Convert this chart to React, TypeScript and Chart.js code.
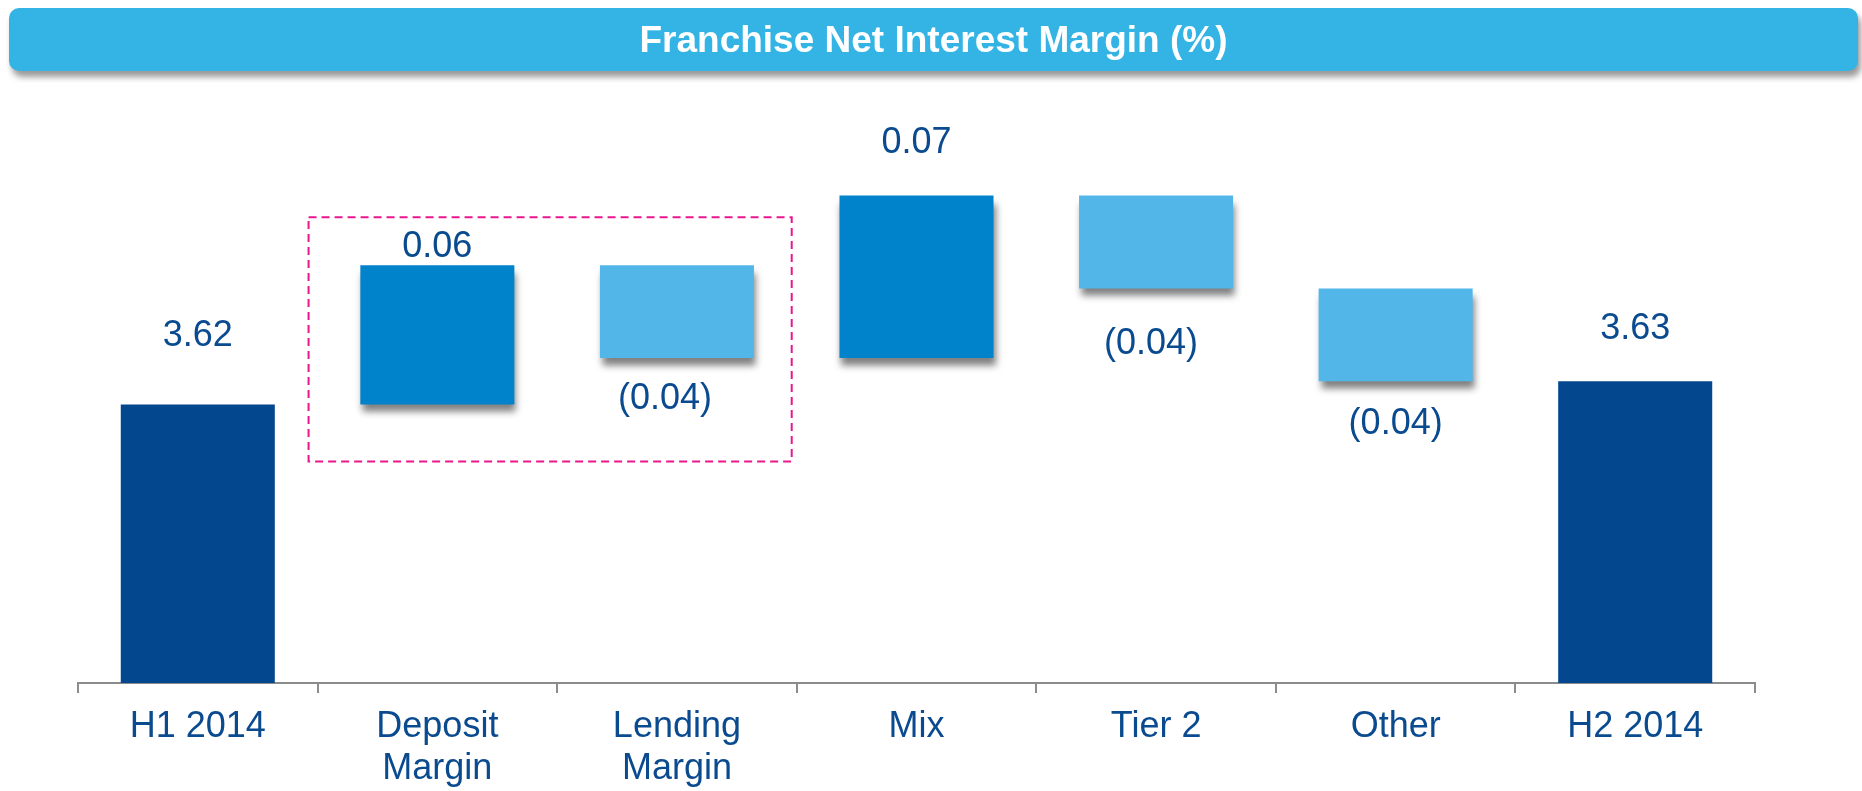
import React, { useEffect, useRef } from "react";
import { Chart, registerables } from "chart.js";

Chart.register(...registerables);

// ---- data ----
const categories: string[][] = [
  ["H1 2014"],
  ["Deposit", "Margin"],
  ["Lending", "Margin"],
  ["Mix"],
  ["Tier 2"],
  ["Other"],
  ["H2 2014"],
];
const totals: (number | null)[] = [3.62, null, null, null, null, null, 3.63];
const changes: (number | null)[] = [null, 0.06, -0.04, 0.07, -0.04, -0.04, null];
const highlighted: number[] = [1, 2];
const axisMin = 3.5;
const axisMax = 3.75;
const titleText = "Franchise Net Interest Margin (%)";

// ---- styles ----
const FONT = "'Liberation Sans', Arial, Helvetica, sans-serif";
const TEXT_COLOR = "#0A4A8F";
const TOTAL_COLOR = "#03478E";
const UP_COLOR = "#0083CB";
const DOWN_COLOR = "#52B7E8";
const labelGap = [58, 8, 51, 43, 66, 53, 42];
const labelDx = [0, 0, -12, 0, -5, 0, 0];

const round2 = (v: number) => Math.round(v * 100) / 100;

function buildRanges() {
  let running = totals[0] as number;
  const totalRanges = totals.map((v) => (v == null ? null : [axisMin, v]));
  const changeRanges = changes.map((d) => {
    if (d == null) return null;
    const start = running;
    const end = round2(running + d);
    running = end;
    return [start, end];
  });
  return { totalRanges, changeRanges };
}

const shadowPlugin = {
  id: "barShadow",
  beforeDatasetDraw(chart: any, args: any) {
    if (args.index === 1) {
      const ctx = chart.ctx;
      ctx.save();
      ctx.shadowColor = "rgba(0,0,0,0.5)";
      ctx.shadowOffsetX = 2;
      ctx.shadowOffsetY = 8;
      ctx.shadowBlur = 7;
    }
  },
  afterDatasetDraw(chart: any, args: any) {
    if (args.index === 1) chart.ctx.restore();
  },
};

const labelPlugin = {
  id: "waterfallLabels",
  afterDatasetsDraw(chart: any) {
    const ctx = chart.ctx;
    ctx.save();
    ctx.font = `36px ${FONT}`;
    ctx.fillStyle = TEXT_COLOR;
    ctx.textAlign = "center";
    ctx.textBaseline = "alphabetic";
    [0, 1].forEach((di) => {
      const meta = chart.getDatasetMeta(di);
      meta.data.forEach((el: any, i: number) => {
        const raw = di === 0 ? totals[i] : changes[i];
        if (raw == null) return;
        const top = Math.min(el.y, el.base);
        const bottom = Math.max(el.y, el.base);
        let text: string;
        let y: number;
        if (di === 0 || raw >= 0) {
          text = raw.toFixed(2);
          y = top - labelGap[i];
        } else {
          text = `(${Math.abs(raw).toFixed(2)})`;
          y = bottom + labelGap[i];
        }
        ctx.fillText(text, el.x + labelDx[i], y);
      });
    });
    ctx.restore();

    // dashed highlight box around highlighted categories
    const xs = chart.scales.x;
    const ys = chart.scales.y;
    const catW = xs.getPixelForValue(1) - xs.getPixelForValue(0);
    const first = highlighted[0];
    const last = highlighted[highlighted.length - 1];
    const { changeRanges } = buildRanges();
    let hi = -Infinity;
    let lo = Infinity;
    highlighted.forEach((i) => {
      const r = changeRanges[i] as number[];
      hi = Math.max(hi, r[0], r[1]);
      lo = Math.min(lo, r[0], r[1]);
    });
    const left = xs.getPixelForValue(first) - catW / 2 - 9;
    const right = xs.getPixelForValue(last) + catW / 2 - 5;
    const top = ys.getPixelForValue(hi) - 48;
    const bottom = ys.getPixelForValue(lo) + 57;
    ctx.save();
    ctx.strokeStyle = "#E9168C";
    ctx.lineWidth = 2;
    ctx.setLineDash([8, 5]);
    ctx.strokeRect(left, top, right - left, bottom - top);
    ctx.restore();
  },
};

export default function App() {
  const canvasRef = useRef<HTMLCanvasElement | null>(null);

  useEffect(() => {
    if (!canvasRef.current) return;
    const { totalRanges, changeRanges } = buildRanges();
    const chart = new Chart(canvasRef.current, {
      type: "bar",
      data: {
        labels: categories,
        datasets: [
          {
            label: "Total",
            data: totalRanges as any,
            backgroundColor: TOTAL_COLOR,
            borderWidth: 0,
            barPercentage: 0.643,
            categoryPercentage: 1,
            grouped: false,
          },
          {
            label: "Change",
            data: changeRanges as any,
            backgroundColor: changes.map((d) => (d != null && d >= 0 ? UP_COLOR : DOWN_COLOR)),
            borderWidth: 0,
            barPercentage: 0.643,
            categoryPercentage: 1,
            grouped: false,
          },
        ],
      },
      options: {
        responsive: false,
        animation: false,
        devicePixelRatio: 1,
        layout: { padding: { left: 78, right: 107, top: 102.7, bottom: 0 } },
        plugins: {
          legend: { display: false },
          tooltip: { enabled: false },
          title: { display: false },
        },
        scales: {
          x: {
            grid: {
              display: true,
              drawOnChartArea: false,
              drawTicks: true,
              tickLength: 10,
              color: "#8C8C8C",
              lineWidth: 2,
              offset: true,
            },
            border: { display: true, color: "#8C8C8C", width: 2 },
            ticks: {
              color: TEXT_COLOR,
              font: { family: FONT, size: 36, lineHeight: 1.17 },
              padding: 13,
              maxRotation: 0,
              autoSkip: false,
            },
            afterFit: (s: any) => {
              s.height = 108;
            },
          },
          y: { display: false, min: axisMin, max: axisMax },
        },
      },
      plugins: [shadowPlugin, labelPlugin],
    });
    return () => chart.destroy();
  }, []);

  return (
    <div style={{ position: "absolute", left: 0, top: 0, width: 1862, height: 791, background: "#fff", overflow: "hidden" }}>
      <canvas ref={canvasRef} width={1862} height={791} style={{ position: "absolute", left: 0, top: 0, display: "block" }} />
      <div
        style={{
          position: "absolute",
          left: 9,
          top: 8,
          width: 1849,
          height: 63,
          background: "#34B4E4",
          borderRadius: 10,
          boxShadow: "3px 6px 6px rgba(0,0,0,0.4)",
          color: "#fff",
          fontFamily: FONT,
          fontWeight: "bold",
          fontSize: 37,
          lineHeight: "63px",
          textAlign: "center",
        }}
      >
        {titleText}
      </div>
    </div>
  );
}
